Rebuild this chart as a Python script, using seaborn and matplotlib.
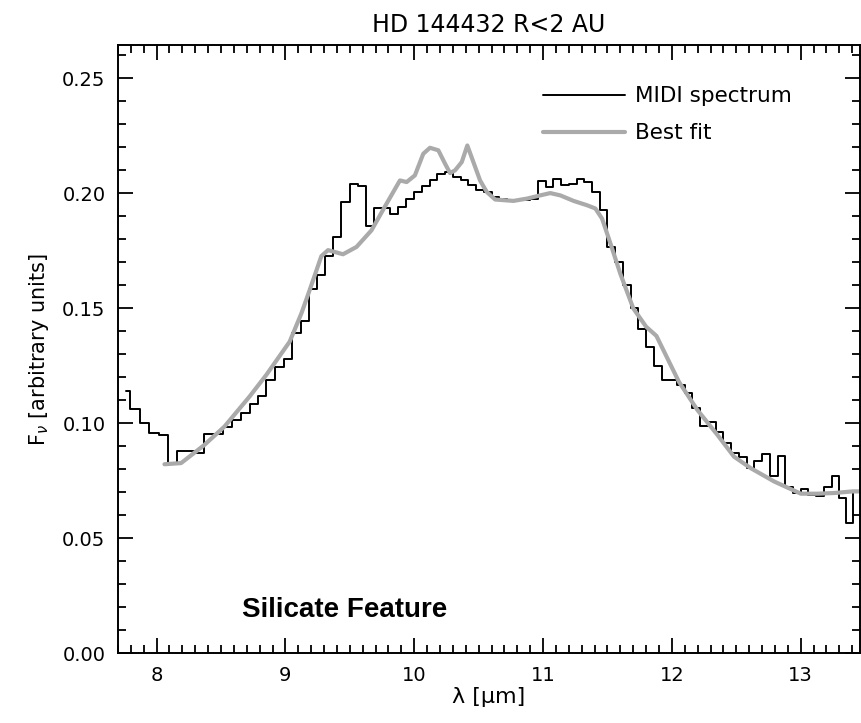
import matplotlib
matplotlib.use("Agg")
import matplotlib.pyplot as plt
import seaborn as sns
import pandas as pd
from matplotlib.ticker import MultipleLocator, FormatStrFormatter

# MIDI spectrum (bin centres, flux) - plotted as histogram steps
spec_wavelength = [7.762, 7.832, 7.907, 7.980, 8.054, 8.126, 8.194, 8.265, 8.336, 8.406,
                   8.478, 8.550, 8.622, 8.689, 8.754, 8.819, 8.886, 8.953, 9.019, 9.086,
                   9.151, 9.214, 9.278, 9.338, 9.400, 9.467, 9.532, 9.595, 9.655, 9.716,
                   9.776, 9.840, 9.905, 9.970, 10.030, 10.090, 10.150, 10.210, 10.270, 10.330,
                   10.390, 10.450, 10.510, 10.570, 10.630, 10.690, 10.750, 10.810, 10.870, 10.930,
                   10.990, 11.050, 11.110, 11.170, 11.230, 11.290, 11.350, 11.410, 11.470, 11.530,
                   11.590, 11.650, 11.710, 11.770, 11.830, 11.890, 11.950, 12.010, 12.070, 12.130,
                   12.190, 12.250, 12.310, 12.370, 12.430, 12.490, 12.550, 12.610, 12.670, 12.730,
                   12.790, 12.850, 12.910, 12.970, 13.030, 13.090, 13.150, 13.210, 13.270, 13.330,
                   13.380, 13.430]
spec_flux = [0.1142, 0.1061, 0.1003, 0.0957, 0.0948, 0.0827, 0.0880, 0.0880, 0.0872, 0.0953,
             0.0953, 0.0983, 0.1015, 0.1044, 0.1084, 0.1119, 0.1188, 0.1243, 0.1278, 0.1394,
             0.1444, 0.1582, 0.1644, 0.1727, 0.1808, 0.1962, 0.2042, 0.2032, 0.1857, 0.1938,
             0.1938, 0.1909, 0.1941, 0.1977, 0.2006, 0.2030, 0.2056, 0.2085, 0.2092, 0.2071,
             0.2056, 0.2035, 0.2013, 0.2006, 0.1984, 0.1977, 0.1970, 0.1970, 0.1970, 0.1975,
             0.2053, 0.2027, 0.2064, 0.2035, 0.2042, 0.2064, 0.2049, 0.2006, 0.1926, 0.1767,
             0.1700, 0.1600, 0.1500, 0.1410, 0.1330, 0.1250, 0.1188, 0.1188, 0.1167, 0.1131,
             0.1066, 0.0989, 0.1007, 0.0964, 0.0914, 0.0870, 0.0855, 0.0805, 0.0834, 0.0867,
             0.0769, 0.0859, 0.0725, 0.0697, 0.0714, 0.0689, 0.0682, 0.0723, 0.0769, 0.0675,
             0.0566, 0.0700]

# Best-fit model
fit_wavelength = [8.061, 8.190, 8.371, 8.527, 8.721, 8.851, 9.033, 9.124, 9.188, 9.279,
                  9.331, 9.447, 9.552, 9.668, 9.785, 9.889, 9.941, 10.005, 10.070, 10.122,
                  10.187, 10.239, 10.278, 10.317, 10.369, 10.412, 10.459, 10.511, 10.563, 10.628,
                  10.770, 10.875, 10.978, 11.056, 11.134, 11.237, 11.342, 11.406, 11.458, 11.523,
                  11.600, 11.700, 11.800, 11.880, 11.950, 12.054, 12.198, 12.353, 12.482, 12.612,
                  12.794, 13.001, 13.131, 13.261, 13.404, 13.450]
fit_flux = [0.0822, 0.0827, 0.0906, 0.0986, 0.1116, 0.1210, 0.1355, 0.1478, 0.1579, 0.1727,
            0.1753, 0.1735, 0.1767, 0.1839, 0.1955, 0.2056, 0.2049, 0.2078, 0.2172, 0.2198,
            0.2187, 0.2129, 0.2088, 0.2100, 0.2136, 0.2208, 0.2136, 0.2056, 0.2006, 0.1973,
            0.1967, 0.1977, 0.1991, 0.2001, 0.1991, 0.1967, 0.1948, 0.1934, 0.1890, 0.1782,
            0.1650, 0.1500, 0.1420, 0.1380, 0.1300, 0.1181, 0.1058, 0.0950, 0.0855, 0.0805,
            0.0747, 0.0694, 0.0694, 0.0697, 0.0704, 0.0704]

title = "HD 144432 R<2 AU"
series_names = ["MIDI spectrum", "Best fit"]

sns.set_style("ticks")
plt.rcParams["font.family"] = ["DejaVu Sans"]
plt.rcParams["text.color"] = "black"
plt.rcParams["axes.labelcolor"] = "black"
plt.rcParams["xtick.color"] = "black"
plt.rcParams["ytick.color"] = "black"

spec_df = pd.DataFrame({"wavelength": spec_wavelength, "flux": spec_flux})
fit_df = pd.DataFrame({"wavelength": fit_wavelength, "flux": fit_flux})

fig = plt.figure(figsize=(8.61, 7.23), dpi=100)
ax = fig.add_axes([0.137, 0.0964, 0.8618, 0.8414])

sns.lineplot(data=spec_df, x="wavelength", y="flux", ax=ax, color="black",
             linewidth=1.4, drawstyle="steps-mid", estimator=None, sort=False,
             label=series_names[0])
sns.lineplot(data=fit_df, x="wavelength", y="flux", ax=ax, color="#aaaaaa",
             linewidth=3.0, estimator=None, sort=False, label=series_names[1])

ax.set_xlim(7.7, 13.46)
ax.set_ylim(0.0, 0.2645)
ax.xaxis.set_major_locator(MultipleLocator(1))
ax.xaxis.set_minor_locator(MultipleLocator(0.1))
ax.yaxis.set_major_locator(MultipleLocator(0.05))
ax.yaxis.set_minor_locator(MultipleLocator(0.01))
ax.yaxis.set_major_formatter(FormatStrFormatter("%.2f"))
ax.tick_params(which="both", direction="in", top=True, right=True, width=1.3,
               labelsize=14, colors="black")
ax.tick_params(which="major", length=10.5, pad=9)
ax.tick_params(which="minor", length=5.5)
for s in ax.spines.values():
    s.set_linewidth(1.4)
    s.set_color("black")

ax.set_title(title, fontsize=17, pad=9)
ax.set_xlabel("λ [μm]", fontsize=16)
ax.xaxis.set_label_coords(0.5, -0.055)
ax.set_ylabel(r"F$_{\nu}$ [arbitrary units]", fontsize=15, labelpad=8)

ax.text(9.46, 0.019, "Silicate Feature", ha="center", va="center",
        fontsize=20, fontweight="bold", family="Liberation Sans")

leg = ax.legend(loc="upper left", frameon=False, fontsize=15.5, handlelength=3.8,
                handletextpad=0.5, labelspacing=0.78, borderaxespad=0.0,
                borderpad=0.0, bbox_to_anchor=(0.5725, 0.932))

fig.savefig("out.png", dpi=100)
